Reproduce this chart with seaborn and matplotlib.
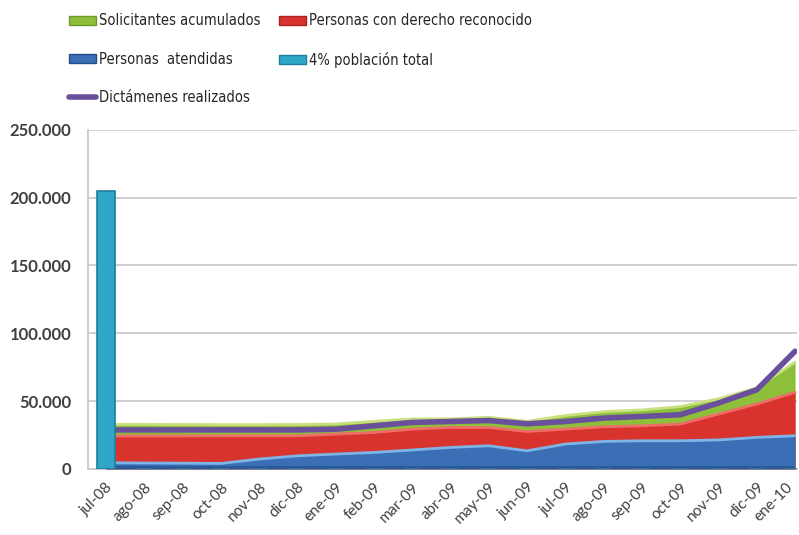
import numpy as np
import pandas as pd
import matplotlib
matplotlib.use("Agg")
import matplotlib.pyplot as plt
from matplotlib.patches import Patch
from matplotlib.lines import Line2D
from matplotlib import font_manager
from matplotlib.transforms import ScaledTranslation
import seaborn as sns

meses = ["jul-08", "ago-08", "sep-08", "oct-08", "nov-08", "dic-08", "ene-09",
         "feb-09", "mar-09", "abr-09", "may-09", "jun-09", "jul-09", "ago-09",
         "sep-09", "oct-09", "nov-09", "dic-09", "ene-10"]

solicitantes = [33500, 33500, 33400, 33300, 33300, 33400, 33800, 35700, 37500,
                37500, 38700, 35700, 40000, 42900, 44100, 46600, 52300, 60400, 79400]
derecho = [25000, 25000, 25000, 25100, 25100, 25100, 26400, 27600, 30100,
           31300, 31300, 28300, 30100, 31800, 32500, 33800, 41200, 48600, 57200]
atendidas = [5200, 5000, 4900, 4700, 7900, 10300, 11600, 12800, 14600,
             16500, 17700, 14000, 19000, 20900, 21400, 21400, 22000, 23900, 25100]
dictamenes = [28800, 28800, 28800, 28800, 28800, 28800, 29300, 31800, 34300,
              35000, 35700, 33300, 35000, 37500, 38700, 40000, 48600, 58400, 86800]
poblacion_4 = [205000] + [np.nan] * (len(meses) - 1)

sns.set_theme(style="white")
plt.rcParams["font.family"] = ["Lato", "DejaVu Sans"]

# narrow face for the legend when one is available
legend_font = font_manager.FontProperties(family=["DejaVu Sans"], stretch="condensed", size=10.5)
cond = [f for f in font_manager.fontManager.ttflist
        if "Condensed" in f.name or "Narrow" in f.name or "condensed" in str(f.stretch)]
if not cond:
    legend_font = font_manager.FontProperties(family=["Lato"], size=10)

fig = plt.figure(figsize=(7.99, 5.35), dpi=100)
ax = fig.add_axes([0.110, 0.1234, 0.8875, 0.634])

x = np.arange(len(meses))

# overlapping area series, largest at the back
ax.fill_between(x, 0, solicitantes, color="#8dbf3a", lw=0, zorder=2)
ax.plot(x, np.array(solicitantes) - 600, color="#c9e07e", lw=2, zorder=2.1)
ax.fill_between(x, 0, derecho, color="#d8332d", lw=0, zorder=3)
ax.plot(x, np.array(derecho) - 700, color="#ee6d68", lw=2, zorder=3.1)
ax.fill_between(x, 0, atendidas, color="#3a6fb5", lw=0, zorder=4)
ax.plot(x, np.array(atendidas) - 600, color="#7fb4e6", lw=2, zorder=4.1)
ax.fill_between(x, 0, np.minimum(atendidas, 2500), color="#2c5a98", lw=0, zorder=4.2)

# line series
df_line = pd.DataFrame({"pos": x, "valor": dictamenes})
sns.lineplot(data=df_line, x="pos", y="valor", ax=ax, color="#6a4f9c",
             lw=4, zorder=5, solid_capstyle="round")

# column series (only first month)
df_bar = pd.DataFrame({"mes": meses, "valor": poblacion_4})
bar_vals = df_bar["valor"].fillna(0).to_numpy()
ax.bar(x, bar_vals, width=0.45, color="#2ea7c6", edgecolor="#1d7f9c",
       linewidth=1.2, zorder=6)

ax.set_xlim(-0.47, 18.05)
ax.set_ylim(0, 250000)
ax.set_yticks(np.arange(0, 250001, 50000))
ax.set_yticklabels(["0", "50.000", "100.000", "150.000", "200.000", "250.000"],
                   fontsize=12, color="#404040", fontweight="bold")
ax.set_xticks(x)
ax.set_xticklabels(meses, rotation=45, ha="right", va="top",
                   rotation_mode="anchor", fontsize=11, color="#404040")
ax.tick_params(axis="x", pad=8, length=0)
ax.tick_params(axis="y", pad=12, length=0)
# keep the last month label inside the figure edge
last = ax.get_xticklabels()[-1]
last.set_transform(last.get_transform() + ScaledTranslation(-9 / 100, 0, fig.dpi_scale_trans))
ax.set_xlabel("")
ax.set_ylabel("")
ax.grid(axis="y", color="#c8c8c8", lw=1.2, zorder=0)
ax.set_axisbelow(True)
for side in ["top", "right"]:
    ax.spines[side].set_visible(False)
ax.spines["left"].set_color("#c8c8c8")
ax.spines["bottom"].set_color("#c8c8c8")

col1 = [
    Patch(facecolor="#8dbf3a", edgecolor="#6c9a28", label="Solicitantes acumulados"),
    Patch(facecolor="#3a6fb5", edgecolor="#234d85", label="Personas  atendidas"),
    Line2D([0], [0], color="#6a4f9c", lw=4, label="Dictámenes realizados"),
]
col2 = [
    Patch(facecolor="#d8332d", edgecolor="#a82320", label="Personas con derecho reconocido"),
    Patch(facecolor="#2ea7c6", edgecolor="#1d7f9c", label="4% población total"),
]
leg_kw = dict(loc="upper left", frameon=False, prop=legend_font, handlelength=1.8,
              handleheight=0.6, handletextpad=0.25, labelspacing=1.6,
              borderpad=0.0)
for items, x0 in [(col1, 62 / 799), (col2, 272 / 799)]:
    leg = fig.legend(handles=items, bbox_to_anchor=(x0, 1 - 6 / 535), **leg_kw)
    for t in leg.get_texts():
        t.set_color("#262626")

fig.savefig("out.png", dpi=100)
